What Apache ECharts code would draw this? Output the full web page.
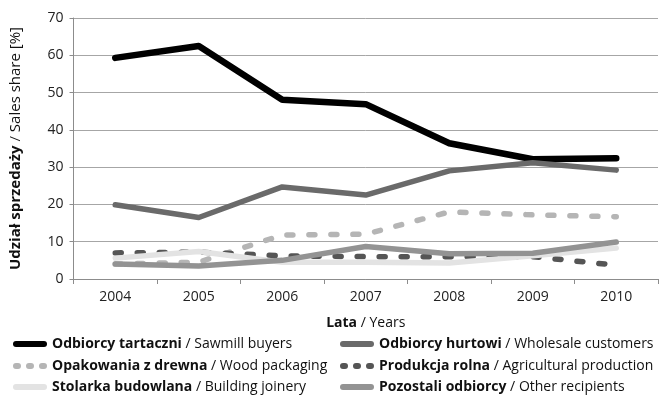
<!DOCTYPE html>
<html>
<head>
<meta charset="utf-8">
<script src="https://cdn.jsdelivr.net/npm/echarts@6/dist/echarts.min.js"></script>
<style>
  html, body { margin: 0; padding: 0; background: #fff; }
  #chart { width: 659px; height: 396px; }
</style>
</head>
<body>
<div id="chart"></div>
<script>
// Sales share by customer group, 2004–2010
const years = ['2004', '2005', '2006', '2007', '2008', '2009', '2010'];
const yTicks = [0, 10, 20, 30, 40, 50, 60, 70];

const sawmill      = [59.3, 62.5, 48.1, 46.9, 36.4, 32.1, 32.4];
const wholesale    = [19.9, 16.5, 24.7, 22.5, 29.0, 31.2, 29.2];
const packaging    = [4.0, 4.5, 11.8, 12.0, 18.0, 17.2, 16.7];
const agricultural = [7.0, 7.2, 6.2, 6.0, 6.0, 6.0, 3.7];
const joinery      = [5.6, 7.4, 4.5, 4.5, 4.3, 6.2, 8.3];
const other        = [4.0, 3.5, 5.0, 8.7, 6.8, 6.9, 9.9];

const FONT = 'Open Sans';

const legendText = {
  sawmill: ['Odbiorcy tartaczni', 'Sawmill buyers'],
  wholesale: ['Odbiorcy hurtowi', 'Wholesale customers'],
  packaging: ['Opakowania z drewna', 'Wood packaging'],
  agricultural: ['Produkcja rolna', 'Agricultural production'],
  joinery: ['Stolarka budowlana', 'Building joinery'],
  other: ['Pozostali odbiorcy', 'Other recipients']
};

// legend swatches: a rounded bar for solid lines, three short capsules for dashed ones
const SOLID_ICON = 'path://M3,0L31,0A3,3 0 0 1 31,6L3,6A3,3 0 0 1 3,0Z';
const DASH_ICON = 'path://M3,0L5,0A3,3 0 0 1 5,6L3,6A3,3 0 0 1 3,0Z' +
                  'M16,0L18,0A3,3 0 0 1 18,6L16,6A3,3 0 0 1 16,0Z' +
                  'M29,0L31,0A3,3 0 0 1 31,6L29,6A3,3 0 0 1 29,0Z';

function line(name, data, color, width, dashed, z) {
  return {
    name: name, type: 'line', data: data, symbol: 'none', z: z,
    lineStyle: { color: color, width: width, cap: 'round', join: 'round',
                 type: dashed ? [6, 16] : 'solid' },
    itemStyle: { color: color }
  };
}

const richBold = (size, lh) => ({
  b: { fontFamily: FONT, fontWeight: 'bold', fontSize: size, color: '#111', lineHeight: lh },
  r: { fontFamily: FONT, fontSize: size, color: '#111', lineHeight: lh }
});

// one legend entry per slot: two columns, three rows
function legendItem(name, dashed, left, top) {
  return {
    data: [{ name: name, icon: dashed ? DASH_ICON : SOLID_ICON }],
    left: left, top: top, padding: 0,
    itemWidth: 34, itemHeight: 6,
    formatter: n => '{b|' + legendText[n][0] + '}{r| / ' + legendText[n][1] + '}',
    textStyle: { rich: richBold(14, 16) }
  };
}

const chart = echarts.init(document.getElementById('chart'));
chart.setOption({
  animation: false,
  textStyle: { fontFamily: FONT },
  grid: { left: 69, right: 1, top: 18, bottom: 117 },
  legend: [
    legendItem('sawmill', false, 13, 337),
    legendItem('packaging', true, 13, 359),
    legendItem('joinery', false, 13, 380),
    legendItem('wholesale', false, 340, 337),
    legendItem('agricultural', true, 340, 359),
    legendItem('other', false, 340, 380)
  ],
  xAxis: {
    type: 'category', data: years, boundaryGap: true,
    name: '{b|Lata}{r| / Years}', nameLocation: 'middle', nameGap: 36,
    nameTextStyle: { rich: richBold(14, 16) },
    axisLine: { lineStyle: { color: '#8c8c8c', width: 1 } },
    axisTick: { show: true, length: 5, lineStyle: { color: '#8c8c8c' } },
    axisLabel: { fontSize: 14, color: '#222', margin: 11 }
  },
  yAxis: {
    type: 'value', min: 0, max: 70, interval: 10,
    name: '{b|Udział sprzedaży}{r| / Sales share [%]}', nameLocation: 'middle', nameGap: 49,
    nameRotate: 90,
    nameTextStyle: { rich: richBold(15, 18) },
    axisLine: { show: true, lineStyle: { color: '#8c8c8c', width: 1 } },
    axisTick: { show: true, length: 4, lineStyle: { color: '#8c8c8c' } },
    splitLine: { lineStyle: { color: '#a6a6a6', width: 1 } },
    axisLabel: { fontSize: 14, color: '#222', margin: 10,
                 formatter: v => yTicks.includes(v) ? String(v) : '' }
  },
  // drawing order: later series sit on top
  series: [
    line('sawmill', sawmill, '#000000', 6.5, false, 1),
    line('wholesale', wholesale, '#6a6a6a', 5.5, false, 2),
    line('packaging', packaging, '#b5b5b5', 5.5, true, 3),
    line('agricultural', agricultural, '#555555', 5.5, true, 4),
    line('joinery', joinery, '#e3e3e3', 5.5, false, 5),
    line('other', other, '#939393', 5.5, false, 6)
  ]
});
</script>
</body>
</html>
